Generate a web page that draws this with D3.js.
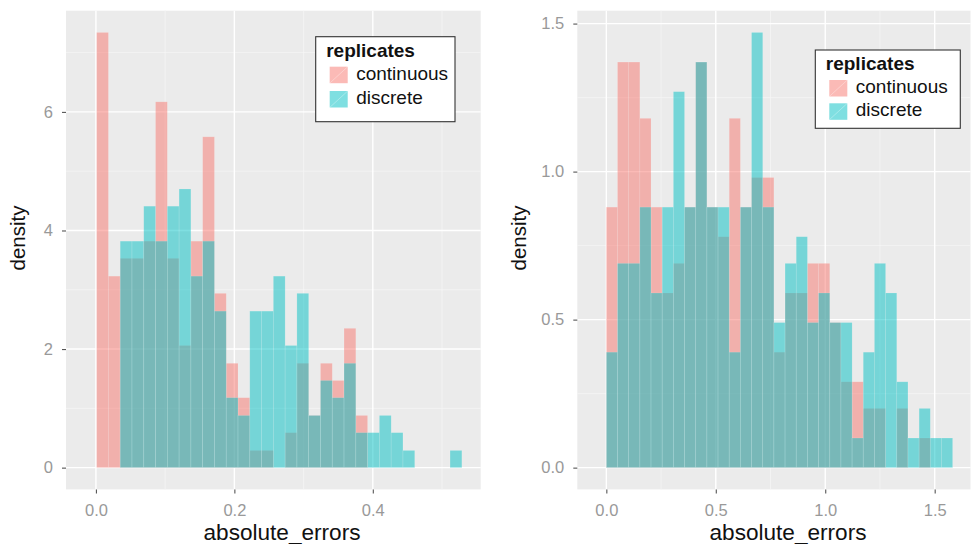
<!DOCTYPE html>
<html>
<head>
<meta charset="utf-8">
<script src="https://cdn.jsdelivr.net/npm/d3@7"></script>
<style>
body { margin: 0; background: #fff; }
text { font-family: "Liberation Sans", Arial, Helvetica, sans-serif; }
</style>
</head>
<body>
<svg id="chart" width="973" height="544"></svg>
<script>

// left edge of the first (empty) bin and the bin width, per panel
var leftBinStart = -0.0160;
var leftBinWidth = 0.01702;
var rightBinStart = -0.0510;
var rightBinWidth = 0.05103;

var replicates = ["continuous", "discrete"];

// density per bin
var leftContinuous = [0, 7.34, 3.23, 3.53, 3.53, 3.82, 6.17, 3.53, 2.06, 3.82, 5.58, 2.94, 1.76, 1.18, 0.29, 0.29,
	0, 0.59, 1.76, 0.88, 1.76, 1.47, 2.35, 0.88, 0, 0, 0, 0, 0, 0, 0, 0];
var leftDiscrete = [0, 0, 0, 3.82, 3.82, 4.41, 3.82, 4.41, 4.70, 3.23, 3.82, 2.64, 1.18, 0.88, 2.64, 2.64,
	3.23, 2.06, 2.94, 0.88, 1.47, 1.18, 1.76, 0.59, 0.59, 0.88, 0.59, 0.29, 0, 0, 0, 0.29];
var rightContinuous = [0, 0.88, 1.37, 1.37, 1.18, 0.88, 0.59, 0.69, 0.88, 1.37, 0.88, 0.78, 1.18, 0.88, 0.98, 0.98,
	0.39, 0.59, 0.59, 0.69, 0.69, 0.49, 0.29, 0.29, 0.20, 0.20, 0, 0.20, 0, 0.10, 0, 0];
var rightDiscrete = [0, 0.39, 0.69, 0.69, 0.88, 0.59, 0.88, 1.27, 0.88, 1.37, 0.88, 0.88, 0.39, 0.88, 1.47, 0.88,
	0.49, 0.69, 0.78, 0.49, 0.59, 0.49, 0.49, 0.10, 0.39, 0.69, 0.59, 0.29, 0.10, 0.20, 0.10, 0.10];

var leftXTicks = [0, 0.2, 0.4];
var leftYTicks = [0, 2, 4, 6];
var rightXTicks = [0, 0.5, 1.0, 1.5];
var rightYTicks = [0, 0.5, 1.0, 1.5];

var fills = ["#F8766D", "#00BFC4"];

var svg = d3.select("#chart");

drawPanel({
	left: 66, right: 480.7, top: 10.7, bottom: 489.4,
	start: leftBinStart, width: leftBinWidth,
	series: [leftContinuous, leftDiscrete],
	xTicks: leftXTicks, yTicks: leftYTicks,
	xFmt: d3.format(".1f"), yFmt: d3.format("d"),
	xTitleX: 282, yTitleX: 25, yTitleY: 238,
	legend: { x: 315.7, y: 36.7, w: 139.3, h: 85, pitch: 24.3 }
});

drawPanel({
	left: 577.3, right: 970.5, top: 10.7, bottom: 489.4,
	start: rightBinStart, width: rightBinWidth,
	series: [rightContinuous, rightDiscrete],
	xTicks: rightXTicks, yTicks: rightYTicks,
	xFmt: d3.format(".1f"), yFmt: d3.format(".1f"),
	xTitleX: 788, yTitleX: 526, yTitleY: 238,
	legend: { x: 815.3, y: 50, w: 145, h: 78.3, pitch: 23.3 }
});


function drawPanel(p) {

	var nBins = p.series[0].length;
	var lo = p.start, hi = p.start + nBins * p.width;
	var ymax = d3.max(p.series, function(s) { return d3.max(s); });

	// ggplot style 5% expansion
	var x = d3.scaleLinear()
		.domain([lo - 0.05 * (hi - lo), hi + 0.05 * (hi - lo)])
		.range([p.left, p.right]);
	var y = d3.scaleLinear()
		.domain([-0.05 * ymax, ymax * 1.05])
		.range([p.bottom, p.top]);

	var g = svg.append("g");

	g.append("rect")
		.attr("x", p.left).attr("y", p.top)
		.attr("width", p.right - p.left).attr("height", p.bottom - p.top)
		.attr("fill", "#EBEBEB");

	var xStep = p.xTicks[1] - p.xTicks[0];
	var yStep = p.yTicks[1] - p.yTicks[0];
	var xMinor = d3.range(-5, 10).map(function(i) { return p.xTicks[0] + (i + 0.5) * xStep; })
		.filter(function(v) { return v > x.domain()[0] && v < x.domain()[1]; });
	var yMinor = d3.range(-5, 10).map(function(i) { return p.yTicks[0] + (i + 0.5) * yStep; })
		.filter(function(v) { return v > y.domain()[0] && v < y.domain()[1]; });

	g.selectAll(".xminor").data(xMinor).enter().append("line")
		.attr("x1", x).attr("x2", x).attr("y1", p.top).attr("y2", p.bottom)
		.attr("stroke", "#F7F7F7").attr("stroke-width", 0.7);
	g.selectAll(".yminor").data(yMinor).enter().append("line")
		.attr("y1", y).attr("y2", y).attr("x1", p.left).attr("x2", p.right)
		.attr("stroke", "#F7F7F7").attr("stroke-width", 0.7);
	g.selectAll(".xmajor").data(p.xTicks).enter().append("line")
		.attr("x1", x).attr("x2", x).attr("y1", p.top).attr("y2", p.bottom)
		.attr("stroke", "#fff").attr("stroke-width", 1.4);
	g.selectAll(".ymajor").data(p.yTicks).enter().append("line")
		.attr("y1", y).attr("y2", y).attr("x1", p.left).attr("x2", p.right)
		.attr("stroke", "#fff").attr("stroke-width", 1.4);

	// bars, continuous first then discrete on top
	p.series.forEach(function(s, k) {
		g.selectAll(".bar" + k).data(s).enter().append("rect")
			.attr("x", function(d, i) { return x(p.start + i * p.width); })
			.attr("width", function(d, i) { return x(p.start + (i + 1) * p.width) - x(p.start + i * p.width); })
			.attr("y", function(d) { return y(d); })
			.attr("height", function(d) { return y(0) - y(d); })
			.attr("fill", fills[k])
			.attr("fill-opacity", 0.5)
			.attr("stroke", function(d) { return d > 0 ? "#fff" : "none"; })
			.attr("stroke-opacity", 0.18)
			.attr("stroke-width", 0.7);
	});

	// axes
	var xAxis = g.append("g").attr("transform", "translate(0," + p.bottom + ")")
		.call(d3.axisBottom(x).tickValues(p.xTicks).tickFormat(p.xFmt).tickSize(4).tickPadding(6));
	var yAxis = g.append("g").attr("transform", "translate(" + p.left + ",0)")
		.call(d3.axisLeft(y).tickValues(p.yTicks).tickFormat(p.yFmt).tickSize(4).tickPadding(9));
	[xAxis, yAxis].forEach(function(a) {
		a.select(".domain").remove();
		a.selectAll(".tick line").attr("stroke", "#555").attr("stroke-width", 1.1);
		a.selectAll(".tick text").attr("fill", "#999").style("font-size", "16.5px")
			.style("font-family", "'Liberation Sans', Arial, sans-serif");
	});
	xAxis.selectAll(".tick text").attr("dy", "1em");

	g.append("text")
		.attr("x", p.xTitleX).attr("y", 540)
		.attr("text-anchor", "middle")
		.style("font-size", "22.6px").attr("fill", "#111")
		.text("absolute_errors");

	g.append("text")
		.attr("transform", "translate(" + p.yTitleX + "," + p.yTitleY + ") rotate(-90)")
		.attr("text-anchor", "middle")
		.style("font-size", "20.5px").attr("fill", "#111")
		.text("density");

	// legend
	var L = p.legend;
	var lg = g.append("g").attr("transform", "translate(" + L.x + "," + L.y + ")");
	lg.append("rect").attr("width", L.w).attr("height", L.h)
		.attr("fill", "#fff").attr("stroke", "#333").attr("stroke-width", 1.1);
	lg.append("text").attr("x", 10.5).attr("y", 20.3)
		.style("font-size", "19px").style("font-weight", "bold").attr("fill", "#111")
		.text("replicates");
	replicates.forEach(function(name, k) {
		var ky = 30 + k * L.pitch;
		lg.append("rect").attr("x", 14).attr("y", ky).attr("width", 18).attr("height", 16.5)
			.attr("fill", fills[k]).attr("fill-opacity", 0.5);
		lg.append("line").attr("x1", 14).attr("y1", ky + 16.5).attr("x2", 32).attr("y2", ky)
			.attr("stroke", "#fff").attr("stroke-opacity", 0.4).attr("stroke-width", 0.8);
		lg.append("text").attr("x", 40.5).attr("y", ky + 13)
			.style("font-size", "19px").attr("fill", "#111")
			.text(name);
	});
}
</script>
</body>
</html>
